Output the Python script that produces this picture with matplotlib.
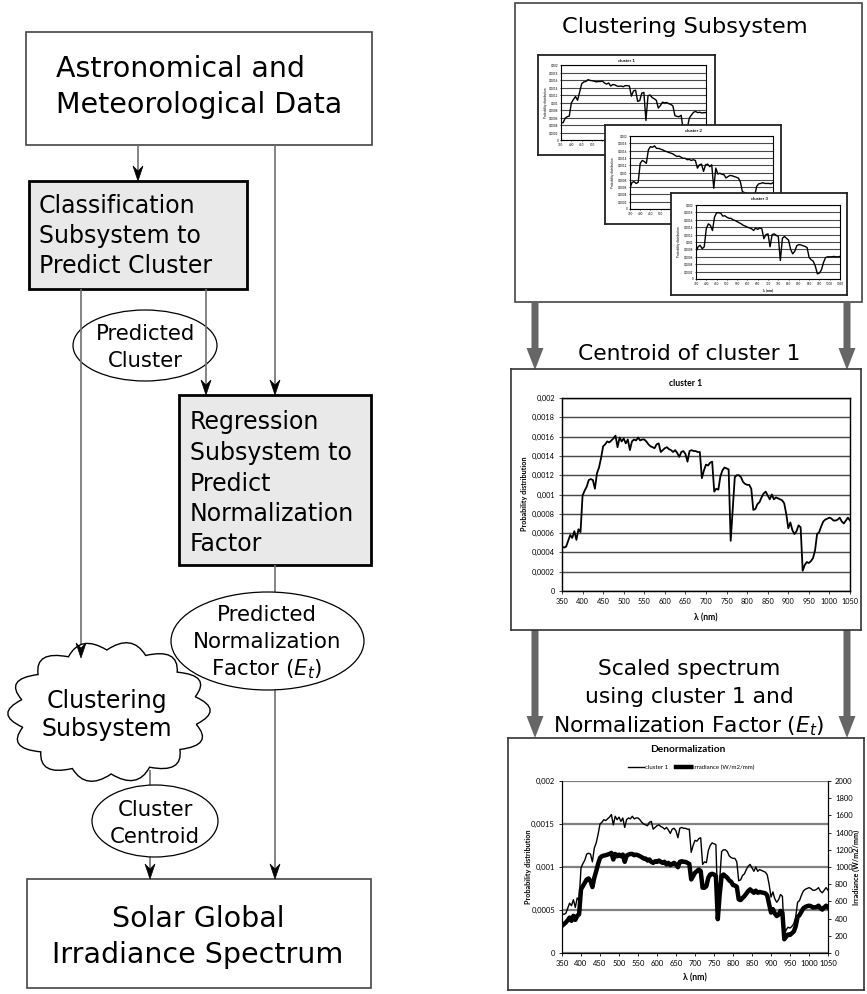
import numpy as np
import matplotlib
matplotlib.use("Agg")
import matplotlib.pyplot as plt
from matplotlib.patches import Rectangle, Ellipse, FancyArrow, Polygon, PathPatch
from matplotlib.path import Path
from matplotlib.lines import Line2D

W, H = 867, 994
LINE = "#707070"
ARROW = "#666666"
CHART_FONT = "Lato"

# wavelength grid of the big charts (5 nm) and of the small ones (10 nm)
wavelength = list(range(350, 1051, 5))
wavelength_coarse = list(range(350, 1051, 10))

# centroid of cluster 1 (probability distribution)
cluster1 = [
    .00046, .00045, .00046, .00052, .00058, .00055, .00062, .00053, .00064, .00061,  # 350
    .00099, .00104, .00108, .00115, .00116, .00115, .00106, .00122, .00128, .00138,  # 400
    .00150, .00152, .00155, .00154, .00156, .00158, .00161, .00149, .00159, .00155,  # 450
    .00158, .00153, .00157, .00146, .00155, .00157, .00156, .00159, .00156, .00157,  # 500
    .00157, .00155, .00152, .00150, .00149, .00148, .00152, .00153, .00144, .00146,  # 550
    .00148, .00149, .00147, .00146, .00144, .00146, .00143, .00139, .00144, .00145,  # 600
    .00142, .00134, .00145, .00146, .00145, .00145, .00144, .00144, .00117, .00125,  # 650
    .00131, .00130, .00133, .00134, .00103, .00106, .00105, .00119, .00125, .00128,  # 700
    .00127, .00126, .00052, .00085, .00118, .00120, .00120, .00118, .00113, .00111,  # 750
    .00110, .00110, .00106, .00084, .00085, .00090, .00092, .00097, .00101, .00103,  # 800
    .00099, .00095, .00100, .00095, .00097, .00096, .00095, .00094, .00091, .00080,  # 850
    .00065, .00071, .00063, .00059, .00062, .00068, .00066, .00021, .00027, .00030,  # 900
    .00029, .00031, .00034, .00042, .00059, .00061, .00067, .00072, .00074, .00075,  # 950
    .00076, .00075, .00073, .00073, .00074, .00076, .00072, .00070, .00073, .00076,  # 1000
    .00073,
]

# denormalized spectrum (W/m2/nm)
irradiance = [
    316, 335, 355, 380, 412, 374, 432, 385, 432, 451,
    740, 778, 817, 855, 867, 836, 767, 875, 952, 1036,
    1106, 1125, 1133, 1137, 1144, 1152, 1164, 1087, 1152, 1125,
    1144, 1125, 1144, 1060, 1133, 1144, 1152, 1152, 1137, 1144,
    1137, 1125, 1114, 1098, 1098, 1075, 1087, 1060, 1048, 1067,
    1060, 1075, 1060, 1048, 1060, 1029, 1048, 1021, 1036, 1048,
    1029, 998, 1060, 1067, 1060, 1060, 1048, 1036, 855, 894,
    933, 952, 971, 952, 759, 759, 778, 875, 913, 921,
    913, 894, 393, 682, 894, 913, 894, 875, 844, 829,
    790, 785, 770, 625, 615, 640, 660, 690, 720, 740,
    720, 700, 725, 700, 710, 705, 700, 695, 670, 570,
    470, 510, 460, 430, 445, 490, 470, 160, 190, 215,
    210, 230, 250, 310, 420, 440, 480, 520, 535, 545,
    550, 545, 530, 530, 535, 550, 520, 505, 530, 550,
    530,
]

cluster1_coarse = cluster1[::2]

cluster2 = [
    .00057, .00073, .00075, .00070, .00073, .00125, .00133, .00130, .00125, .00162,
    .00171, .00169, .00173, .00166, .00166, .00164, .00162, .00159, .00157, .00155,
    .00153, .00151, .00147, .00144, .00145, .00142, .00139, .00139, .00135, .00136,
    .00133, .00135, .00133, .00112, .00121, .00123, .00103, .00121, .00123, .00116,
    .00121, .00057, .00112, .00096, .00098, .00095, .00094, .00085, .00089, .00092,
    .00091, .00089, .00087, .00085, .00075, .00048, .00045, .00044, .00035, .00025,
    .00025, .00035, .00062, .00069, .00070, .00072, .00070, .00070, .00070, .00069,
    .00072,
]

cluster3 = [
    .00073, .00087, .00091, .00082, .00087, .00136, .00149, .00145, .00131, .00167,
    .00179, .00179, .00178, .00170, .00171, .00167, .00164, .00164, .00160, .00158,
    .00155, .00152, .00149, .00145, .00143, .00140, .00138, .00136, .00131, .00138,
    .00134, .00138, .00136, .00109, .00120, .00122, .00087, .00120, .00122, .00118,
    .00115, .00050, .00110, .00115, .00110, .00105, .00080, .00068, .00075, .00090,
    .00093, .00092, .00090, .00088, .00085, .00058, .00052, .00048, .00035, .00014,
    .00016, .00025, .00045, .00058, .00060, .00060, .00060, .00061, .00060, .00060,
    .00061,
]

prob_ticks = [0, 0.0002, 0.0004, 0.0006, 0.0008, 0.001, 0.0012, 0.0014, 0.0016, 0.0018, 0.002]
prob_labels = ["0", "0,0002", "0,0004", "0,0006", "0,0008", "0,001",
               "0,0012", "0,0014", "0,0016", "0,0018", "0,002"]
prob_ticks_coarse = [0, 0.0005, 0.001, 0.0015, 0.002]
prob_labels_coarse = ["0", "0,0005", "0,001", "0,0015", "0,002"]
irr_ticks = [0, 200, 400, 600, 800, 1000, 1200, 1400, 1600, 1800, 2000]
wl_ticks = [350, 400, 450, 500, 550, 600, 650, 700, 750, 800, 850, 900, 950, 1000, 1050]
wl_labels = [str(w) for w in wl_ticks]

plt.rcParams["font.family"] = ["DejaVu Sans"]

fig = plt.figure(figsize=(W / 100, H / 100), dpi=100)
ax = fig.add_axes([0, 0, 1, 1])
ax.set_xlim(0, W)
ax.set_ylim(H, 0)
ax.axis("off")
px = ax.transData


def rect(x0, y0, x1, y1):
    return [x0 / W, 1 - y1 / H, (x1 - x0) / W, (y1 - y0) / H]


def box(x0, y0, x1, y1, fc="white", ec="#444444", lw=1.2):
    ax.add_patch(Rectangle((x0, y0), x1 - x0, y1 - y0, fc=fc, ec=ec, lw=lw, zorder=2))


def lines(x, ys, texts, size, ha="left"):
    for y, t in zip(ys, texts):
        ax.text(x, y, t, fontsize=size, ha=ha, va="baseline", zorder=6)


def vline(x, y0, y1):
    ax.plot([x, x], [y0, y1], color=LINE, lw=1.2, zorder=3, solid_capstyle="butt")


def head(x, y):
    ax.add_patch(Polygon([(x, y), (x - 5, y - 15), (x, y - 10), (x + 5, y - 15)],
                         closed=True, fc="black", ec="black", lw=0.5, zorder=5))


def cloud(cx, cy, rx, ry, n=14):
    t = np.linspace(0, 2 * np.pi, n + 1) + 0.2
    verts, codes = [], []
    for i in range(n):
        a0, a1 = t[i], t[i + 1]
        am = (a0 + a1) / 2
        if i == 0:
            verts.append((cx + rx * np.cos(a0), cy + ry * np.sin(a0)))
            codes.append(Path.MOVETO)
        verts.append((cx + 1.3 * rx * np.cos(am), cy + 1.3 * ry * np.sin(am)))
        verts.append((cx + rx * np.cos(a1), cy + ry * np.sin(a1)))
        codes += [Path.CURVE3, Path.CURVE3]
    ax.add_patch(PathPatch(Path(verts, codes), fc="white", ec="black", lw=1.0, zorder=4))


# ---------------- left: block diagram ----------------
box(26, 32, 372, 145)
lines(56, [77, 113], ["Astronomical and", "Meteorological Data"], 20.5)

box(29, 181, 247, 289, fc="#e9e9e9", ec="black", lw=2)
lines(39, [213, 243, 273], ["Classification", "Subsystem to", "Predict Cluster"], 17)

box(179, 395, 371, 565, fc="#e9e9e9", ec="black", lw=2)
lines(190, [429, 460, 491, 521, 551],
      ["Regression", "Subsystem to", "Predict", "Normalization", "Factor"], 17)

box(27, 879, 371, 988)
lines(198, [927, 963], ["Solar Global", "Irradiance Spectrum"], 20.5, ha="center")

ax.add_patch(Ellipse((145, 345.5), 144, 71, fc="white", ec="black", lw=0.9, zorder=2))
lines(145, [340, 367], ["Predicted", "Cluster"], 15.2, ha="center")

ax.add_patch(Ellipse((267.5, 641), 193, 98, fc="white", ec="black", lw=0.9, zorder=4))
lines(267, [621, 648, 675], ["Predicted", "Normalization", r"Factor ($E_t$)"], 15.4, ha="center")

cloud(109, 712, 89, 62)
lines(107, [708, 736], ["Clustering", "Subsystem"], 17, ha="center")

ax.add_patch(Ellipse((155, 821), 126, 72, fc="white", ec="black", lw=0.9, zorder=4))
lines(155, [816, 843], ["Cluster", "Centroid"], 15.3, ha="center")

vline(138, 145, 172)
head(138, 181)
vline(275, 145, 386)
head(275, 395)
vline(81, 289, 650)
head(81, 658)
vline(206, 289, 386)
head(206, 395)
vline(275, 565, 592)
vline(275, 690, 870)
head(275, 879)
vline(150, 770, 786)
vline(150, 857, 870)
head(150, 879)

# ---------------- right: clustering + charts ----------------
box(515, 3, 862, 302)
ax.text(685, 33, "Clustering Subsystem", fontsize=16.2, ha="center", va="baseline")
ax.text(689, 360, "Centroid of cluster 1", fontsize=15.7, ha="center", va="baseline")
lines(689, [675, 703, 732],
      ["Scaled spectrum", "using cluster 1 and", r"Normalization Factor ($E_t$)"], 15.7,
      ha="center")

for x in (535, 847):
    ax.add_patch(FancyArrow(x, 302, 0, 68, width=7, head_width=17, head_length=22,
                            length_includes_head=True, color=ARROW, lw=0, zorder=3))
    ax.add_patch(FancyArrow(x, 630, 0, 108, width=7, head_width=17, head_length=22,
                            length_includes_head=True, color=ARROW, lw=0, zorder=3))


def frame(x0, y0, x1, y1, lw=1.3, ec="#222222"):
    f = fig.add_axes(rect(x0, y0, x1, y1))
    f.set_xticks([])
    f.set_yticks([])
    for s in f.spines.values():
        s.set_linewidth(lw)
        s.set_color(ec)
    return f


def spectrum_axes(plot_px, x, y, lw, tick_size, tick_len):
    a = fig.add_axes(rect(*plot_px))
    a.plot(x, y, color="black", lw=lw, zorder=3)
    a.set_xlim(350, 1050)
    a.set_ylim(0, 0.002)
    a.set_yticks(prob_ticks)
    a.set_yticklabels(prob_labels)
    a.set_xticks(wl_ticks)
    a.set_xticklabels(wl_labels)
    a.yaxis.grid(True, color="#4a4a4a", lw=0.8 * lw)
    a.set_axisbelow(True)
    a.tick_params(labelsize=tick_size, length=tick_len, width=0.5, pad=tick_len)
    for lab in a.get_xticklabels() + a.get_yticklabels():
        lab.set_family(CHART_FONT)
    for s in a.spines.values():
        s.set_linewidth(0.8 * lw)
    return a


# three small cluster charts, stacked; the front card hides part of the one behind
minis = [
    ((538, 55, 715, 155), (561, 65, 706, 140), "cluster 1", cluster1_coarse),
    ((605, 125, 781, 224), (630, 136, 773, 209), "cluster 2", cluster2),
    ((671, 193, 847, 295), (696, 205, 840, 279), "cluster 3", cluster3),
]
for i, (fpx, ppx, name, vals) in enumerate(minis):
    frame(*fpx, lw=1.3)
    a = spectrum_axes(ppx, wavelength_coarse, vals, 1.0, 2.2, 1.0)
    cx = (fpx[0] + fpx[2]) / 2
    a.text(cx, fpx[1] + 6, name, transform=px, ha="center", va="center", fontsize=3.2,
           fontweight="bold", family=CHART_FONT, clip_on=False)
    a.text(fpx[0] + 8, (ppx[1] + ppx[3]) / 2, "Probability distribution", transform=px,
           rotation=90, ha="center", va="center", fontsize=2.2, family=CHART_FONT,
           clip_on=False)
    if i < len(minis) - 1:
        # x tick labels lying under the next card are not drawn
        next_left = minis[i + 1][0][0]
        for w, lab in zip(wl_ticks, a.get_xticklabels()):
            xpix = ppx[0] + (w - 350) / 700 * (ppx[2] - ppx[0])
            if xpix > next_left - 6:
                lab.set_visible(False)
    else:
        a.text((ppx[0] + ppx[2]) / 2, fpx[3] - 4.5, "λ (nm)", transform=px, ha="center",
               va="center", fontsize=2.6, fontweight="bold", family=CHART_FONT,
               clip_on=False)

# centroid of cluster 1
frame(511, 369, 861, 630, lw=1.2, ec="#333333")
c = spectrum_axes((562, 398, 850, 591), wavelength, cluster1, 1.3, 5.3, 2.5)
c.text(686, 383, "cluster 1", transform=px, ha="center", va="center", fontsize=6.2,
       fontweight="bold", family=CHART_FONT, clip_on=False)
c.text(525, 494, "Probability distribution", transform=px, rotation=90, ha="center",
       va="center", fontsize=5.2, fontweight="bold", family=CHART_FONT, clip_on=False)
c.text(706, 618, "λ (nm)", transform=px, ha="center", va="center", fontsize=6.2,
       fontweight="bold", family=CHART_FONT, clip_on=False)

# denormalization
frame(508, 738, 864, 990, lw=1.2, ec="#333333")
d = fig.add_axes(rect(562, 781, 828, 953))
d.plot(wavelength, cluster1, color="black", lw=1.0, zorder=3)
d.set_xlim(350, 1050)
d.set_ylim(0, 0.002)
d.set_yticks(prob_ticks_coarse)
d.set_yticklabels(prob_labels_coarse)
d.set_xticks(wl_ticks)
d.set_xticklabels(wl_labels)
d.yaxis.grid(True, color="#808080", lw=1.6)
d.set_axisbelow(True)
d.spines["top"].set_visible(False)
d.tick_params(labelsize=5.5, length=2.5, width=0.6, pad=2.5)
d2 = d.twinx()
d2.plot(wavelength, irradiance, color="black", lw=3.2, zorder=3)
d2.set_ylim(0, 2000)
d2.set_yticks(irr_ticks)
d2.spines["top"].set_visible(False)
d2.tick_params(labelsize=5.5, length=2.5, width=0.6, pad=2.5)
for lab in d.get_xticklabels() + d.get_yticklabels() + d2.get_yticklabels():
    lab.set_family(CHART_FONT)

d2.text(688, 750, "Denormalization", transform=px, ha="center", va="center", fontsize=7.3,
        fontweight="bold", family=CHART_FONT, clip_on=False)
d2.text(528, 867, "Probability distribution", transform=px, rotation=90, ha="center",
        va="center", fontsize=5.2, fontweight="bold", family=CHART_FONT, clip_on=False)
d2.text(856, 867, "Irradiance (W/m2/mm)", transform=px, rotation=90, ha="center",
        va="center", fontsize=5.2, fontweight="bold", family=CHART_FONT, clip_on=False)
d2.text(695, 978, "λ (nm)", transform=px, ha="center", va="center", fontsize=6.3,
        fontweight="bold", family=CHART_FONT, clip_on=False)
handles = [Line2D([], [], color="black", lw=1.0), Line2D([], [], color="black", lw=3.2)]
d2.legend(handles, ["cluster 1", "irradiance (W/m2/mm)"], loc="center",
          bbox_to_anchor=(691, 767), bbox_transform=px, ncol=2, frameon=False,
          prop={"family": CHART_FONT, "size": 4.4}, handlelength=2.6,
          handletextpad=0.2, columnspacing=1.2, borderpad=0)

fig.savefig("out.png", dpi=100)
